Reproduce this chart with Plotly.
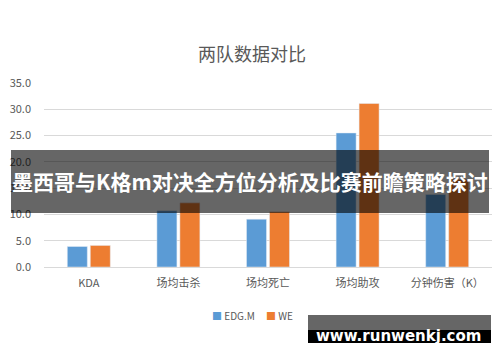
import plotly.graph_objects as go

categories = ["KDA", "场均击杀", "场均死亡", "场均助攻", "分钟伤害（K）"]
series_names = ["EDG.M", "WE"]
series_colors = ["#5B9BD5", "#ED7D31"]
edgm = [3.9, 10.7, 9.1, 25.5, 13.8]
we = [4.1, 12.2, 10.5, 31.1, 16.7]
y_ticks = [0, 5, 10, 15, 20, 25, 30, 35]
y_labels = ["0.0", "5.0", "10.0", "15.0", "20.0", "25.0", "30.0", "35.0"]

FONT = "Noto Sans CJK SC"
W, H = 500, 362
L, R, T, B = 44, 8, 83, 95
PW, PH = W - L - R, H - T - B

def px(x):
    return (x - L) / PW

def py(y):
    return (H - B - y) / PH

fig = go.Figure()
for name, color, vals in zip(series_names, series_colors, [edgm, we]):
    fig.add_trace(go.Bar(name=name, x=categories, y=vals, marker_color=color))

fig.update_layout(
    width=W, height=H,
    margin=dict(l=L, r=R, t=T, b=B),
    paper_bgcolor="white", plot_bgcolor="white",
    font=dict(family=FONT, color="#595959", size=11),
    barmode="group", bargap=0.487, bargroupgap=0.13,
    title=dict(text="两队数据对比", x=252 / W, xanchor="center", xref="container",
               y=1 - 55 / H, yanchor="middle", yref="container",
               font=dict(size=18, color="#595959", family=FONT)),
    showlegend=False,
    xaxis=dict(showgrid=False, showline=True, linecolor="#d9d9d9", linewidth=1,
               ticks="", ticklabelstandoff=6, tickfont=dict(size=11, color="#595959")),
    yaxis=dict(range=[0, 35], tickvals=y_ticks, ticktext=y_labels,
               showgrid=True, gridcolor="#d9d9d9", gridwidth=1, zeroline=False,
               showline=False, ticks="", ticklabelstandoff=12,
               tickfont=dict(size=11, color="#595959")),
)

# Legend (compact, Excel-like)
legend_text = "&nbsp;&nbsp;&nbsp;&nbsp;&nbsp;".join(
    f"<span style='color:{c}'>■</span>&nbsp;{n}" for n, c in zip(series_names, series_colors)
)
fig.add_annotation(xref="paper", yref="paper", x=px(252), y=py(315),
                   text=legend_text, showarrow=False,
                   xanchor="center", yanchor="middle",
                   font=dict(size=10, color="#595959", family=FONT))

# Overlay banner
fig.add_shape(type="rect", xref="paper", yref="paper",
              x0=px(11), x1=px(489), y0=py(213), y1=py(150),
              fillcolor="rgba(0,0,0,0.6)", line_width=0, layer="above")
fig.add_annotation(xref="paper", yref="paper", x=px(250), y=py(181),
                   text="<b>墨西哥与K格m对决全方位分析及比赛前瞻策略探讨</b>",
                   showarrow=False, xanchor="center", yanchor="middle",
                   font=dict(size=21, color="white", family=FONT))

# Watermark
fig.add_shape(type="rect", xref="paper", yref="paper",
              x0=px(308), x1=px(491), y0=py(330), y1=py(315),
              fillcolor="rgba(0,0,0,0.6)", line_width=0, layer="above")
fig.add_shape(type="rect", xref="paper", yref="paper",
              x0=px(308), x1=px(491), y0=py(343), y1=py(330),
              fillcolor="black", line_width=0, layer="above")
fig.add_annotation(xref="paper", yref="paper", x=px(398), y=py(336),
                   text="<b>www.runwenkj.com</b>",
                   showarrow=False, xanchor="center", yanchor="middle",
                   font=dict(size=15, color="white", family="DejaVu Sans"))

fig.write_html("out.html")
